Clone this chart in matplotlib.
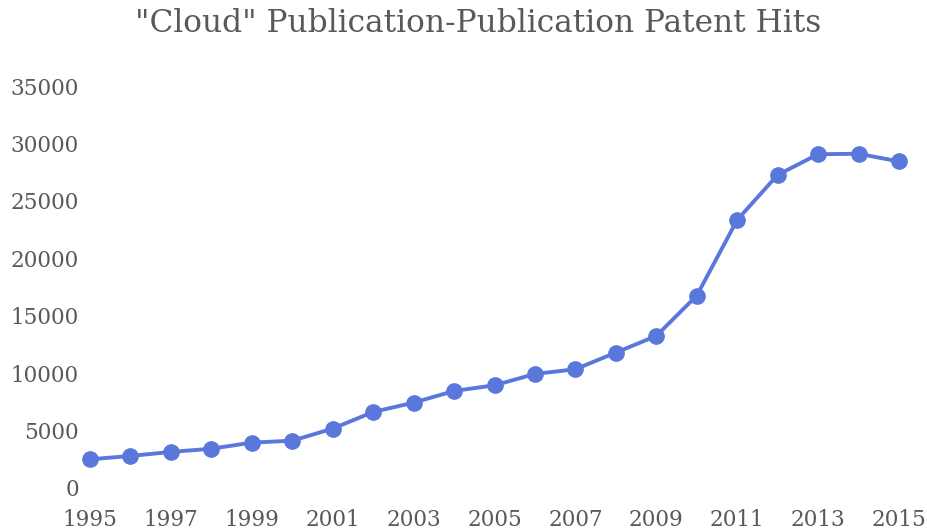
import numpy as np
import matplotlib
matplotlib.use("Agg")
import matplotlib.pyplot as plt

# values
years = list(range(1995, 2016))
hits = [2500, 2790, 3140, 3420, 3950, 4120, 5170, 6620, 7430, 8450,
        8940, 9930, 10340, 11790, 13240, 16750, 23340, 27260, 29060,
        29100, 28430]

x_ticks = list(range(1995, 2016, 2))
y_ticks = list(range(0, 35001, 5000))

title = '"Cloud" Publication-Publication Patent Hits'

text_color = "#595959"
line_color = "#5a78dc"

plt.rcParams["font.family"] = "DejaVu Serif"

fig = plt.figure(figsize=(9.28, 5.29), dpi=100)
ax = fig.add_axes([90 / 928, 41 / 529, 809 / 928, 402 / 529])

ax.plot(years, hits, color=line_color, linewidth=2.8, marker="o",
        markersize=11, markerfacecolor=line_color,
        markeredgecolor=line_color, clip_on=False)

ax.set_xlim(1995, 2015)
ax.set_ylim(0, 35000)
ax.set_xticks(x_ticks)
ax.set_yticks(y_ticks)

for side in ["top", "right", "bottom", "left"]:
    ax.spines[side].set_visible(False)

ax.tick_params(axis="both", length=0, labelsize=15.5, labelcolor=text_color)
ax.tick_params(axis="x", pad=15)
ax.tick_params(axis="y", pad=8)

fig.text(478 / 928, 1 - 23 / 529, title, ha="center", va="center",
         fontsize=22.5, color=text_color)

fig.savefig("out.png", dpi=100, facecolor="white")
